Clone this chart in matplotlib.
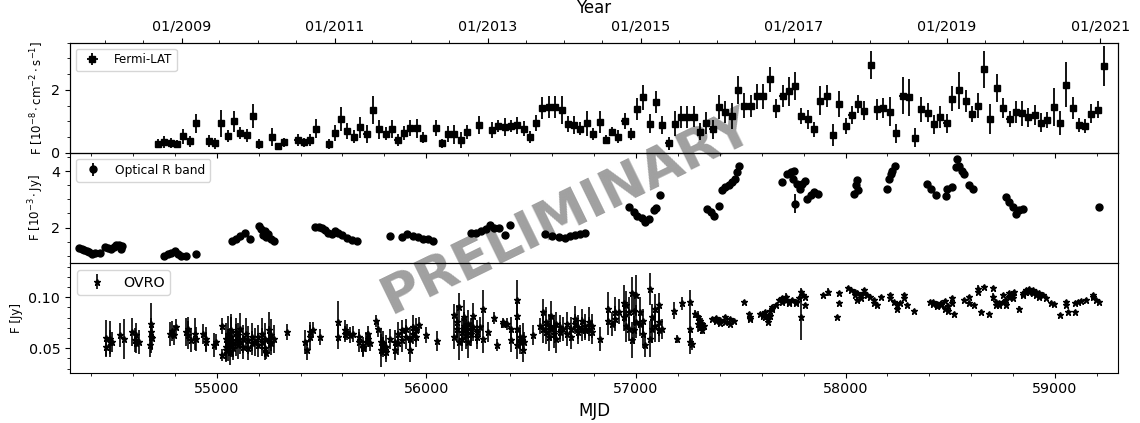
import datetime
import matplotlib
matplotlib.use("Agg")
import matplotlib.pyplot as plt
from matplotlib.ticker import MultipleLocator, FixedLocator, FormatStrFormatter

# ---- Fermi-LAT (30 day bins) ----
fermi_mjd = [54720, 54748, 54780, 54812, 54841, 54871, 54903, 54963, 54990, 55021,
             55053, 55083, 55113, 55143, 55173, 55202, 55264, 55293, 55323, 55386,
             55416, 55446, 55476, 55535, 55564, 55592, 55623, 55654, 55683, 55715,
             55744, 55774, 55806, 55835, 55863, 55893, 55922, 55954, 55983, 56045,
             56074, 56103, 56134, 56164, 56196, 56253, 56315, 56344, 56376, 56405,
             56435, 56465, 56495, 56524, 56554, 56585, 56613, 56645, 56676, 56706,
             56734, 56766, 56796, 56827, 56857, 56887, 56916, 56946, 56976, 57007,
             57034, 57067, 57096, 57126, 57156, 57187, 57216, 57246, 57276, 57306,
             57336, 57366, 57397, 57427, 57457, 57488, 57517, 57548, 57579, 57607,
             57639, 57669, 57700, 57730, 57759, 57789, 57819, 57849, 57880, 57910,
             57940, 57970, 58001, 58029, 58059, 58090, 58120, 58150, 58181, 58211,
             58241, 58272, 58301, 58331, 58362, 58392, 58421, 58451, 58482, 58510,
             58542, 58574, 58603, 58633, 58662, 58690, 58722, 58752, 58783, 58813,
             58843, 58872, 58902, 58932, 58963, 58993, 59023, 59053, 59084, 59114,
             59142, 59172, 59203, 59235]
fermi_flux = [0.29, 0.34, 0.31, 0.29, 0.52, 0.36, 0.93, 0.37, 0.30, 0.93,
              0.53, 1.00, 0.63, 0.55, 1.16, 0.28, 0.50, 0.20, 0.33, 0.41,
              0.33, 0.40, 0.77, 0.28, 0.63, 1.07, 0.68, 0.51, 0.81, 0.60,
              1.37, 0.75, 0.61, 0.76, 0.40, 0.63, 0.79, 0.78, 0.48, 0.78,
              0.30, 0.59, 0.59, 0.41, 0.67, 0.88, 0.72, 0.85, 0.82, 0.85,
              0.88, 0.77, 0.50, 0.95, 1.42, 1.45, 1.45, 1.37, 0.92, 0.88,
              0.77, 0.93, 0.59, 0.98, 0.42, 0.67, 0.51, 1.00, 0.59, 1.39,
              1.76, 0.92, 1.61, 0.88, 0.30, 0.92, 1.13, 1.13, 1.15, 0.67,
              0.93, 0.74, 1.45, 1.31, 1.17, 2.00, 1.49, 1.49, 1.79, 1.79,
              2.33, 1.42, 1.79, 1.95, 2.13, 1.17, 1.07, 0.74, 1.66, 1.82,
              0.56, 1.55, 0.85, 1.20, 1.55, 1.34, 2.78, 1.38, 1.42, 1.31,
              0.62, 1.82, 1.76, 0.48, 1.38, 1.27, 0.90, 1.13, 0.93, 1.72,
              1.98, 1.64, 1.23, 1.50, 2.65, 1.07, 2.06, 1.42, 1.07, 1.31,
              1.26, 1.13, 1.20, 0.95, 1.04, 1.45, 0.95, 2.17, 1.42, 0.88,
              0.85, 1.24, 1.37, 2.76]
fermi_err = [0.15, 0.20, 0.17, 0.12, 0.25, 0.18, 0.30, 0.20, 0.18, 0.42,
             0.18, 0.33, 0.20, 0.20, 0.38, 0.17, 0.30, 0.10, 0.15, 0.20,
             0.15, 0.20, 0.30, 0.17, 0.25, 0.37, 0.25, 0.20, 0.33, 0.28,
             0.45, 0.30, 0.20, 0.28, 0.20, 0.22, 0.25, 0.30, 0.17, 0.25,
             0.15, 0.25, 0.30, 0.25, 0.22, 0.30, 0.25, 0.20, 0.30, 0.20,
             0.27, 0.25, 0.20, 0.25, 0.35, 0.35, 0.35, 0.45, 0.25, 0.30,
             0.20, 0.40, 0.20, 0.35, 0.15, 0.15, 0.20, 0.25, 0.20, 0.35,
             0.40, 0.30, 0.35, 0.30, 0.20, 0.40, 0.35, 0.35, 0.33, 0.27,
             0.35, 0.30, 0.38, 0.35, 0.40, 0.45, 0.40, 0.35, 0.40, 0.40,
             0.40, 0.30, 0.35, 0.45, 0.45, 0.25, 0.30, 0.25, 0.45, 0.35,
             0.35, 0.40, 0.25, 0.30, 0.30, 0.30, 0.45, 0.33, 0.33, 0.45,
             0.30, 0.60, 0.60, 0.30, 0.40, 0.30, 0.30, 0.35, 0.30, 0.40,
             0.60, 0.35, 0.25, 0.40, 0.60, 0.48, 0.45, 0.33, 0.25, 0.35,
             0.40, 0.30, 0.33, 0.30, 0.25, 0.60, 0.38, 0.72, 0.35, 0.23,
             0.23, 0.30, 0.28, 0.63]

# ---- Optical R band ----
opt_mjd = [54342, 54358, 54369, 54380, 54393, 54406, 54417, 54441, 54465, 54481,
           54494, 54508, 54521, 54533, 54545, 54550,
           54747, 54767, 54784, 54799, 54815, 54831, 54852, 54903,
           55075, 55094, 55110, 55134, 55158,
           55202, 55209, 55221, 55229, 55237, 55245, 55261, 55272,
           55468, 55489, 55500, 55516, 55532, 55548, 55564, 55580, 55596, 55620, 55644, 55667,
           55827, 55882, 55906, 55938, 55962, 55986, 56010, 56034,
           56212, 56236, 56260, 56284, 56304, 56323, 56347, 56376, 56397,
           56567, 56599, 56631, 56663, 56687, 56711, 56734, 56758,
           56965, 56989, 57005, 57029, 57045, 57061, 57085, 57098, 57113,
           57340, 57356, 57371, 57395, 57411, 57427, 57443, 57459, 57475, 57483, 57491,
           57698, 57722, 57738, 57754, 57751, 57767, 57782, 57794, 57805, 57818, 57833,
           57849, 57868, 57757,
           58040, 58048, 58053, 58059,
           58196, 58207, 58215, 58224, 58235,
           58391, 58410, 58430, 58478, 58486, 58510, 58531, 58526, 58542, 58558, 58566,
           58590, 58606,
           58765, 58781, 58797, 58813, 58829, 58845,
           59211]
opt_flux = [1.28, 1.23, 1.20, 1.16, 1.14, 1.08, 1.12, 1.10, 1.31, 1.28,
            1.26, 1.31, 1.37, 1.40, 1.26, 1.35,
            1.00, 1.05, 1.12, 1.16, 1.08, 1.00, 0.99, 1.05,
            1.52, 1.61, 1.70, 1.82, 1.59,
            2.06, 1.96, 1.73, 1.87, 1.67, 1.79, 1.61, 1.52,
            2.02, 2.02, 1.99, 1.90, 1.82, 1.79, 1.87, 1.82, 1.73, 1.63, 1.55, 1.52,
            1.70, 1.67, 1.79, 1.70, 1.67, 1.61, 1.59, 1.52,
            1.82, 1.82, 1.87, 1.94, 2.08, 1.99, 1.99, 1.73, 2.11,
            1.79, 1.70, 1.67, 1.63, 1.70, 1.73, 1.79, 1.82,
            2.73, 2.55, 2.41, 2.34, 2.20, 2.29, 2.61, 2.69, 3.14,
            2.67, 2.55, 2.41, 2.76, 3.32, 3.44, 3.52, 3.61, 3.73, 3.96, 4.18,
            3.61, 3.91, 3.96, 3.99, 3.73, 3.55, 3.38, 3.55, 3.64, 3.02, 3.14,
            3.26, 3.20, 2.85,
            3.20, 3.49, 3.67, 3.32,
            3.38, 3.73, 3.91, 4.02, 4.18,
            3.55, 3.38, 3.14, 3.12, 3.35, 3.44, 4.41, 4.14, 4.18, 4.02, 3.91,
            3.52, 3.38,
            3.08, 2.90, 2.73, 2.49, 2.61, 2.67,
            2.73]
opt_err = [0.03] * 16 + [0.03] * 8 + [0.03] * 5 + [0.04] * 8 + [0.03] * 12 + \
          [0.03] * 8 + [0.04] * 9 + [0.03] * 8 + [0.04] * 9 + [0.04] * 11 + \
          [0.05] * 13 + [0.35] + [0.05] * 4 + [0.05] * 5 + [0.05] * 13 + \
          [0.05] * 6 + [0.05]

# ---- OVRO 15 GHz ----
ovro_mjd = [54470, 54470, 54489, 54489, 54500, 54540, 54556, 54597, 54608, 54616,
            54616, 54629, 54680, 54688, 54688, 54688, 54693, 54776, 54788, 54796,
            54807, 54852, 54863, 54863, 54879, 54895, 54903, 54935, 54951, 54951,
            54986, 54998, 55027, 55027, 55043, 55043, 55043, 55054, 55054, 55062,
            55062, 55070, 55070, 55078, 55078, 55091, 55091, 55102, 55102, 55113,
            55113, 55126, 55126, 55139, 55150, 55150, 55166, 55166, 55182, 55197,
            55197, 55214, 55214, 55229, 55229, 55237, 55250, 55250, 55261, 55261,
            55272, 55333, 55420, 55429, 55444, 55444, 55457, 55495, 55580, 55580,
            55612, 55612, 55623, 55635, 55651, 55680, 55680, 55696, 55696, 55712,
            55723, 55723, 55731, 55760, 55771, 55782, 55782, 55795, 55795, 55807,
            55807, 55827, 55850, 55850, 55866, 55866, 55882, 55882, 55903, 55903,
            55922, 55922, 55935, 55935, 55951, 55951, 55967, 55999, 56053, 56132,
            56132, 56145, 56145, 56158, 56158, 56169, 56169, 56180, 56180, 56190,
            56190, 56201, 56201, 56212, 56212, 56225, 56225, 56241, 56241, 56257,
            56272, 56272, 56292, 56324, 56339, 56365, 56365, 56384, 56403, 56403,
            56432, 56432, 56432, 56432, 56448, 56448, 56461, 56461, 56467, 56508,
            56543, 56559, 56559, 56572, 56572, 56583, 56583, 56594, 56594, 56607,
            56607, 56620, 56620, 56636, 56636, 56652, 56671, 56671, 56690, 56690,
            56711, 56711, 56726, 56726, 56743, 56743, 56758, 56758, 56774, 56774,
            56790, 56790, 56830, 56865, 56865, 56886, 56902, 56902, 56917, 56941,
            56941, 56954, 56954, 56965, 56965, 56981, 56981, 56992, 56992, 57002,
            57002, 57021, 57021, 57034, 57034, 57045, 57066, 57066, 57077, 57077,
            57093, 57093, 57109, 57109, 57109, 57125, 57180, 57197, 57220, 57257,
            57257, 57257, 57268, 57284, 57295, 57295, 57305, 57305, 57316, 57316,
            57327, 57364, 57380, 57380, 57403, 57403, 57427, 57427, 57451, 57451,
            57467, 57515, 57539, 57543, 57543, 57594, 57607, 57607, 57618, 57618,
            57629, 57629, 57639, 57639, 57650, 57650, 57666, 57682, 57698, 57698,
            57714, 57714, 57730, 57730, 57746, 57762, 57762, 57778, 57789, 57789,
            57799, 57809, 57809, 57894, 57916, 57958, 57969, 57969, 58012, 58028,
            58044, 58044, 58056, 58056, 58072, 58072, 58088, 58088, 58101, 58117,
            58136, 58136, 58149, 58168, 58212, 58212, 58229, 58248, 58248, 58261,
            58280, 58280, 58295, 58327, 58403, 58419, 58419, 58438, 58438, 58455,
            58455, 58474, 58474, 58490, 58490, 58506, 58506, 58519, 58564, 58590,
            58590, 58611, 58633, 58633, 58645, 58662, 58685, 58706, 58706, 58717,
            58717, 58733, 58733, 58749, 58749, 58765, 58765, 58781, 58781, 58797,
            58797, 58805, 58829, 58845, 58845, 58861, 58861, 58877, 58877, 58893,
            58893, 58909, 58909, 58925, 58925, 58941, 58956, 58980, 58996, 59025,
            59052, 59052, 59063, 59094, 59094, 59107, 59123, 59147, 59179, 59179,
            59195, 59211]
ovro_flux = [0.060, 0.051, 0.059, 0.056, 0.056, 0.063, 0.059, 0.066, 0.058, 0.063,
             0.055, 0.056, 0.053, 0.074, 0.066, 0.061, 0.060, 0.064, 0.067, 0.063,
             0.071, 0.066, 0.063, 0.069, 0.058, 0.064, 0.059, 0.064, 0.059, 0.056,
             0.053, 0.056, 0.072, 0.043, 0.059, 0.051, 0.048, 0.064, 0.053, 0.056,
             0.046, 0.061, 0.068, 0.055, 0.050, 0.066, 0.058, 0.063, 0.053, 0.069,
             0.056, 0.059, 0.051, 0.064, 0.058, 0.050, 0.061, 0.055, 0.056, 0.061,
             0.053, 0.064, 0.056, 0.059, 0.050, 0.045, 0.068, 0.058, 0.063, 0.055,
             0.059, 0.066, 0.056, 0.048, 0.066, 0.061, 0.068, 0.061, 0.076, 0.061,
             0.068, 0.064, 0.066, 0.063, 0.064, 0.061, 0.056, 0.051, 0.050, 0.056,
             0.059, 0.064, 0.055, 0.077, 0.069, 0.056, 0.048, 0.055, 0.051, 0.051,
             0.046, 0.059, 0.056, 0.048, 0.064, 0.055, 0.068, 0.058, 0.061, 0.069,
             0.048, 0.059, 0.071, 0.064, 0.068, 0.061, 0.073, 0.063, 0.057, 0.083,
             0.061, 0.076, 0.069, 0.090, 0.056, 0.066, 0.059, 0.081, 0.072, 0.069,
             0.063, 0.074, 0.056, 0.068, 0.064, 0.082, 0.071, 0.066, 0.061, 0.071,
             0.089, 0.059, 0.066, 0.080, 0.053, 0.076, 0.074, 0.074, 0.069, 0.058,
             0.097, 0.082, 0.069, 0.053, 0.061, 0.056, 0.061, 0.048, 0.056, 0.063,
             0.072, 0.086, 0.069, 0.076, 0.066, 0.072, 0.061, 0.082, 0.069, 0.071,
             0.064, 0.074, 0.059, 0.071, 0.066, 0.069, 0.074, 0.064, 0.069, 0.061,
             0.079, 0.074, 0.071, 0.066, 0.077, 0.069, 0.072, 0.068, 0.076, 0.069,
             0.072, 0.066, 0.059, 0.089, 0.077, 0.074, 0.086, 0.079, 0.086, 0.094,
             0.081, 0.092, 0.072, 0.086, 0.069, 0.104, 0.058, 0.087, 0.068, 0.102,
             0.076, 0.086, 0.074, 0.077, 0.064, 0.053, 0.108, 0.059, 0.081, 0.069,
             0.089, 0.072, 0.092, 0.076, 0.068, 0.069, 0.087, 0.059, 0.094, 0.095,
             0.069, 0.056, 0.054, 0.084, 0.081, 0.074, 0.077, 0.071, 0.074, 0.068,
             0.072, 0.079, 0.080, 0.077, 0.078, 0.075, 0.081, 0.076, 0.079, 0.074,
             0.077, 0.095, 0.084, 0.081, 0.079, 0.084, 0.084, 0.082, 0.086, 0.081,
             0.079, 0.076, 0.087, 0.082, 0.090, 0.089, 0.092, 0.097, 0.099, 0.095,
             0.100, 0.097, 0.095, 0.094, 0.097, 0.094, 0.095, 0.099, 0.105, 0.081,
             0.102, 0.100, 0.092, 0.102, 0.105, 0.081, 0.104, 0.094, 0.109, 0.107,
             0.105, 0.102, 0.104, 0.097, 0.102, 0.099, 0.107, 0.104, 0.102, 0.100,
             0.097, 0.094, 0.092, 0.100, 0.102, 0.099, 0.095, 0.092, 0.089, 0.094,
             0.102, 0.099, 0.092, 0.087, 0.095, 0.095, 0.093, 0.093, 0.091, 0.092,
             0.094, 0.096, 0.089, 0.091, 0.087, 0.099, 0.094, 0.084, 0.097, 0.100,
             0.094, 0.092, 0.108, 0.105, 0.086, 0.110, 0.084, 0.109, 0.100, 0.095,
             0.092, 0.094, 0.092, 0.095, 0.102, 0.097, 0.092, 0.104, 0.100, 0.102,
             0.099, 0.105, 0.089, 0.102, 0.104, 0.105, 0.107, 0.108, 0.105, 0.107,
             0.104, 0.105, 0.102, 0.104, 0.100, 0.102, 0.099, 0.094, 0.093, 0.083,
             0.095, 0.092, 0.086, 0.086, 0.094, 0.095, 0.096, 0.097, 0.102, 0.100,
             0.097, 0.095]
ovro_err = [0.018, 0.010, 0.018, 0.012, 0.010, 0.012, 0.020, 0.014, 0.012, 0.012,
            0.010, 0.012, 0.012, 0.020, 0.014, 0.016, 0.012, 0.012, 0.010, 0.010,
            0.008, 0.014, 0.014, 0.012, 0.012, 0.016, 0.012, 0.010, 0.012, 0.010,
            0.012, 0.008, 0.008, 0.006, 0.016, 0.014, 0.012, 0.018, 0.016, 0.014,
            0.012, 0.020, 0.016, 0.014, 0.012, 0.014, 0.016, 0.012, 0.014, 0.016,
            0.012, 0.014, 0.012, 0.016, 0.014, 0.012, 0.014, 0.012, 0.014, 0.012,
            0.012, 0.016, 0.014, 0.016, 0.012, 0.006, 0.018, 0.014, 0.016, 0.012,
            0.014, 0.008, 0.012, 0.010, 0.010, 0.012, 0.008, 0.008, 0.020, 0.012,
            0.010, 0.008, 0.008, 0.008, 0.008, 0.008, 0.010, 0.010, 0.008, 0.010,
            0.008, 0.008, 0.008, 0.006, 0.008, 0.014, 0.016, 0.012, 0.010, 0.012,
            0.010, 0.010, 0.012, 0.010, 0.012, 0.012, 0.010, 0.012, 0.012, 0.010,
            0.012, 0.012, 0.012, 0.010, 0.012, 0.010, 0.008, 0.008, 0.010, 0.010,
            0.012, 0.016, 0.012, 0.014, 0.018, 0.014, 0.012, 0.016, 0.014, 0.012,
            0.014, 0.014, 0.016, 0.012, 0.012, 0.012, 0.014, 0.012, 0.012, 0.010,
            0.018, 0.014, 0.010, 0.006, 0.006, 0.004, 0.004, 0.006, 0.012, 0.012,
            0.020, 0.016, 0.014, 0.014, 0.012, 0.012, 0.014, 0.012, 0.010, 0.010,
            0.008, 0.012, 0.014, 0.014, 0.012, 0.012, 0.014, 0.014, 0.012, 0.012,
            0.014, 0.012, 0.014, 0.012, 0.010, 0.012, 0.012, 0.012, 0.012, 0.012,
            0.012, 0.010, 0.012, 0.012, 0.012, 0.012, 0.012, 0.010, 0.014, 0.012,
            0.012, 0.012, 0.012, 0.016, 0.014, 0.012, 0.014, 0.012, 0.012, 0.018,
            0.014, 0.014, 0.016, 0.014, 0.012, 0.016, 0.018, 0.014, 0.014, 0.020,
            0.016, 0.014, 0.012, 0.012, 0.014, 0.012, 0.016, 0.018, 0.012, 0.014,
            0.014, 0.016, 0.012, 0.014, 0.012, 0.010, 0.008, 0.004, 0.006, 0.012,
            0.014, 0.012, 0.006, 0.004, 0.006, 0.008, 0.006, 0.004, 0.006, 0.004,
            0.004, 0.002, 0.002, 0.002, 0.002, 0.002, 0.002, 0.002, 0.002, 0.002,
            0.002, 0.002, 0.002, 0.002, 0.002, 0.002, 0.002, 0.002, 0.002, 0.002,
            0.002, 0.002, 0.002, 0.002, 0.002, 0.002, 0.002, 0.002, 0.002, 0.002,
            0.004, 0.002, 0.002, 0.002, 0.002, 0.002, 0.002, 0.002, 0.004, 0.023,
            0.002, 0.002, 0.002, 0.002, 0.004, 0.002, 0.002, 0.002, 0.002, 0.002,
            0.002, 0.002, 0.002, 0.002, 0.002, 0.002, 0.002, 0.002, 0.002, 0.002,
            0.002, 0.002, 0.002, 0.002, 0.002, 0.002, 0.002, 0.002, 0.002, 0.002,
            0.002, 0.002, 0.002, 0.002, 0.002, 0.002, 0.002, 0.002, 0.002, 0.002,
            0.002, 0.002, 0.002, 0.002, 0.002, 0.002, 0.002, 0.002, 0.002, 0.002,
            0.002, 0.002, 0.004, 0.002, 0.002, 0.002, 0.002, 0.002, 0.004, 0.002,
            0.002, 0.002, 0.002, 0.002, 0.002, 0.002, 0.002, 0.002, 0.002, 0.002,
            0.002, 0.002, 0.002, 0.002, 0.002, 0.002, 0.002, 0.002, 0.002, 0.002,
            0.002, 0.002, 0.002, 0.002, 0.002, 0.002, 0.002, 0.002, 0.002, 0.002,
            0.002, 0.002, 0.002, 0.002, 0.002, 0.002, 0.002, 0.002, 0.002, 0.002,
            0.002, 0.002]

year_labels = [2009, 2011, 2013, 2015, 2017, 2019, 2021]


def to_mjd(y, m):
    return (datetime.date(y, m, 1) - datetime.date(1858, 11, 17)).days


fig, axes = plt.subplots(3, 1, sharex=True, figsize=(11.4, 4.23), dpi=100,
                         gridspec_kw=dict(hspace=0))
fig.subplots_adjust(left=0.0614, right=0.9807, top=0.899, bottom=0.119)
ax1, ax2, ax3 = axes

ax1.errorbar(fermi_mjd, fermi_flux, yerr=fermi_err, xerr=15, fmt='s', color='k',
             ms=5, elinewidth=1.3, capsize=0, label='Fermi-LAT')
ax2.errorbar(opt_mjd, opt_flux, yerr=opt_err, fmt='o', color='k',
             ms=5, elinewidth=1.3, capsize=0, label='Optical R band')
ax3.errorbar(ovro_mjd, ovro_flux, yerr=ovro_err, fmt='*', color='k',
             ms=4.5, elinewidth=1.2, capsize=0, label='OVRO')

ax3.set_xlim(54300, 59300)

ax1.set_ylim(0, 3.5)
ax1.yaxis.set_major_locator(FixedLocator([0, 2]))
ax1.yaxis.set_minor_locator(MultipleLocator(0.5))
ax1.set_ylabel(r'F [$10^{-8}\cdot\mathrm{cm}^{-2}\cdot\mathrm{s}^{-1}$]', fontsize=8.5)

ax2.set_ylim(0.76, 4.65)
ax2.yaxis.set_major_locator(FixedLocator([2, 4]))
ax2.yaxis.set_minor_locator(MultipleLocator(0.5))
ax2.set_ylabel(r'F [$10^{-3}\cdot\mathrm{Jy}$]', fontsize=8.5)

ax3.set_ylim(0.026, 0.134)
ax3.yaxis.set_major_locator(FixedLocator([0.05, 0.10]))
ax3.yaxis.set_major_formatter(FormatStrFormatter('%.2f'))
ax3.yaxis.set_minor_locator(MultipleLocator(0.01))
ax3.set_ylabel('F [Jy]', fontsize=8.5)

ax3.xaxis.set_major_locator(MultipleLocator(1000))
ax3.xaxis.set_minor_locator(MultipleLocator(200))
ax3.set_xlabel('MJD', fontsize=12)

for ax in (ax1, ax2):
    ax.tick_params(axis='x', which='both', bottom=False, labelbottom=False)
for ax in axes:
    ax.tick_params(axis='both', which='major', labelsize=10.3)
    ax.set_facecolor('none')

ax1.legend(loc='upper left', fontsize=8.5)
ax2.legend(loc='upper left', fontsize=8.8)
ax3.legend(loc='upper left', fontsize=10.3)

# year axis on top
top = ax1.twiny()
top.set_xlim(ax3.get_xlim())
top.set_xticks([to_mjd(y, 1) for y in year_labels])
top.set_xticklabels(['01/%d' % y for y in year_labels], fontsize=10.3)
minor_pos = []
for y in range(2008, 2022):
    minor_pos += [to_mjd(y, 1), to_mjd(y, 7)]
top.xaxis.set_minor_locator(FixedLocator([p for p in minor_pos if 54300 <= p <= 59300]))
top.set_xlabel('Year', fontsize=12)
top.set_facecolor('none')

fig.text(0.497, 0.497, 'PRELIMINARY', fontsize=38.5, fontweight='bold',
         color='#a0a0a0', rotation=26, ha='center', va='center',
         rotation_mode='anchor', zorder=-1)

fig.savefig('out.png', dpi=100)
